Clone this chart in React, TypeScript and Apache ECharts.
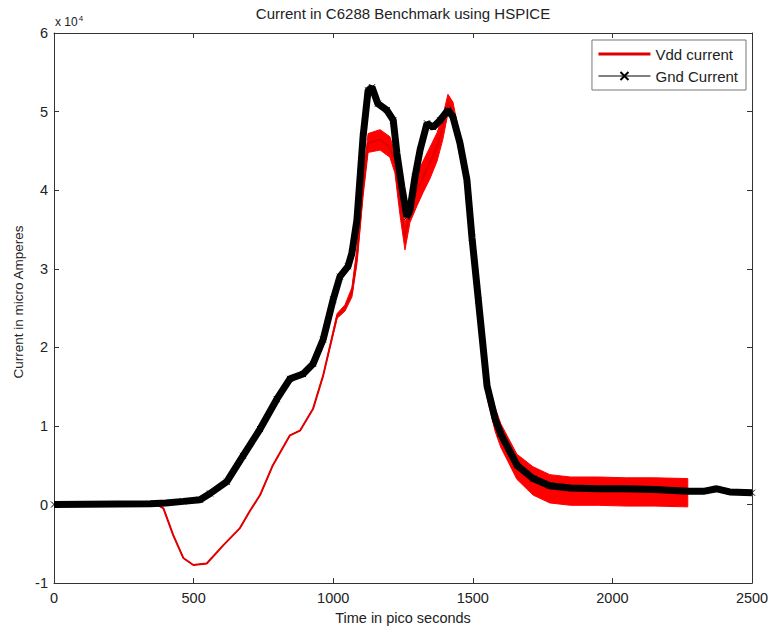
import React, { useEffect, useRef } from "react";
import * as echarts from "echarts";

// Gnd current (units of 1e4 micro Amperes) vs time in ps
const gndTime = [0, 344, 400, 463, 523, 559, 619, 677, 738, 798, 845, 892, 928, 964, 1000, 1024, 1053, 1067, 1085, 1107, 1125, 1139, 1160, 1192, 1215, 1228, 1246, 1264, 1275, 1293, 1311, 1336, 1358, 1383, 1411, 1429, 1454, 1479, 1497, 1520, 1551, 1580, 1600, 1658, 1716, 1776, 1850, 1950, 2050, 2150, 2270, 2330, 2374, 2420, 2500];
const gndCurrent = [0, 0.01, 0.02, 0.04, 0.06, 0.14, 0.29, 0.62, 0.96, 1.34, 1.6, 1.66, 1.79, 2.1, 2.61, 2.9, 3.03, 3.2, 3.62, 4.68, 5.27, 5.31, 5.1, 5.02, 4.89, 4.47, 4.04, 3.66, 3.75, 4.17, 4.51, 4.85, 4.8, 4.89, 5.02, 4.93, 4.6, 4.13, 3.4, 2.6, 1.51, 1.09, 0.9, 0.5, 0.33, 0.24, 0.21, 0.2, 0.2, 0.19, 0.17, 0.17, 0.2, 0.16, 0.15];

// Vdd current (units of 1e4 micro Amperes) vs time in ps, with noise half-width
const vddTime = [356, 392, 427, 463, 499, 547, 606, 666, 702, 738, 784, 845, 881, 928, 964, 1014, 1042, 1067, 1085, 1107, 1125, 1168, 1203, 1221, 1239, 1257, 1275, 1300, 1322, 1347, 1372, 1393, 1411, 1429, 1447, 1479, 1497, 1520, 1551, 1580, 1600, 1658, 1716, 1776, 1850, 1950, 2050, 2150, 2270];
const vddCurrent = [0.03, -0.05, -0.39, -0.68, -0.77, -0.75, -0.52, -0.3, -0.08, 0.12, 0.5, 0.88, 0.94, 1.22, 1.64, 2.4, 2.5, 2.7, 3.16, 4.04, 4.6, 4.64, 4.55, 4.35, 3.84, 3.4, 3.75, 4.0, 4.17, 4.35, 4.55, 4.8, 5.1, 5.0, 4.68, 4.1, 3.4, 2.6, 1.5, 1.08, 0.88, 0.48, 0.3, 0.2, 0.17, 0.17, 0.16, 0.16, 0.15];
const vddNoise = [0, 0, 0, 0, 0, 0, 0, 0, 0, 0, 0, 0, 0, 0, 0, 0.03, 0.04, 0.06, 0.1, 0.12, 0.12, 0.13, 0.13, 0.13, 0.15, 0.16, 0.16, 0.2, 0.2, 0.2, 0.18, 0.15, 0.12, 0.12, 0.12, 0.12, 0.12, 0.12, 0.14, 0.15, 0.15, 0.16, 0.18, 0.18, 0.18, 0.18, 0.18, 0.18, 0.18];

const xTicks = { min: 0, max: 2500, interval: 500 };
const yTicks = { min: -1, max: 6, interval: 1 };

const FONT = "'Liberation Sans', Arial, Helvetica, sans-serif";
const AXIS_COLOR = "#333";
const TEXT_COLOR = "#222";

export default function App() {
  const ref = useRef<HTMLDivElement>(null);
  useEffect(() => {
    document.body.style.margin = "0";
    if (!ref.current) return;
    const chart = echarts.init(ref.current, undefined, { renderer: "svg" });

    const gndData = gndTime.map((t, i) => [t, gndCurrent[i]]);
    const vddData = vddTime.map((t, i) => [t, vddCurrent[i]]);

    const baseX = {
      type: "value" as const,
      min: xTicks.min,
      max: xTicks.max,
      interval: xTicks.interval,
      splitLine: { show: false },
      axisLine: { show: true, onZero: false, lineStyle: { color: AXIS_COLOR, width: 1 } },
      axisTick: { show: true, inside: true, length: 5, lineStyle: { color: AXIS_COLOR } },
    };
    const baseY = {
      type: "value" as const,
      min: yTicks.min,
      max: yTicks.max,
      interval: yTicks.interval,
      splitLine: { show: false },
      axisLine: { show: true, onZero: false, lineStyle: { color: AXIS_COLOR, width: 1 } },
      axisTick: { show: true, inside: true, length: 5, lineStyle: { color: AXIS_COLOR } },
    };

    const option: any = {
      animation: false,
      backgroundColor: "#fff",
      grid: { left: 54, right: 20, top: 33, bottom: 45 },
      graphic: [
        {
          type: "text",
          x: 403,
          y: 13,
          style: {
            text: "Current in C6288 Benchmark using HSPICE",
            font: `15px ${FONT}`,
            fill: TEXT_COLOR,
            align: "center",
            verticalAlign: "middle",
          },
        },
        {
          type: "text",
          x: 55,
          y: 14,
          style: {
            text: "{a|x 10}{b|4}",
            fill: TEXT_COLOR,
            rich: {
              a: { fontSize: 12, fontFamily: FONT, fill: TEXT_COLOR },
              b: { fontSize: 8, fontFamily: FONT, fill: TEXT_COLOR, padding: [0, 0, 8, 1] },
            },
          },
        },
        {
          type: "text",
          x: 18,
          y: 302,
          rotation: Math.PI / 2,
          style: {
            text: "Current in micro Amperes",
            font: `13.5px ${FONT}`,
            fill: TEXT_COLOR,
            align: "center",
            verticalAlign: "middle",
          },
        },
      ],
      legend: {
        orient: "vertical",
        right: 26,
        top: 40,
        backgroundColor: "#fff",
        borderColor: "#777",
        borderWidth: 1,
        borderRadius: 0,
        padding: [5, 8, 5, 6],
        itemGap: 4,
        itemWidth: 52,
        itemHeight: 10,
        textStyle: { fontSize: 15, fontFamily: FONT, color: TEXT_COLOR, lineHeight: 18 },
        data: [
          {
            name: "Vdd current",
            icon: "path://M0,0M52,10M0,3.5L52,3.5L52,6.5L0,6.5Z",
            itemStyle: { color: "#dd0000" },
          },
          { name: "Gnd Current", lineStyle: { width: 1, color: "#000" } },
        ],
      },
      xAxis: [
        {
          ...baseX,
          position: "bottom",
          name: "Time in pico seconds",
          nameLocation: "middle",
          nameGap: 25,
          nameTextStyle: { fontSize: 14.5, fontFamily: FONT, color: TEXT_COLOR },
          axisLabel: {
            fontSize: 14.5,
            fontFamily: FONT,
            color: TEXT_COLOR,
            margin: 7,
            formatter: (v: number) => String(v),
          },
        },
        { ...baseX, position: "top", axisLabel: { show: false } },
      ],
      yAxis: [
        {
          ...baseY,
          position: "left",
          axisLabel: {
            fontSize: 14.5,
            fontFamily: FONT,
            color: TEXT_COLOR,
            margin: 6,
            formatter: (v: number) => String(v),
          },
        },
        { ...baseY, position: "right", axisLabel: { show: false } },
      ],
      series: [
        {
          name: "Vdd noise band",
          type: "custom",
          xAxisIndex: 0,
          yAxisIndex: 0,
          silent: true,
          clip: true,
          data: vddData,
          renderItem: (params: any, api: any) => {
            if (params.dataIndex !== 0) return null;
            const upper = vddTime.map((t, i) => api.coord([t, vddCurrent[i] + vddNoise[i]]));
            const lower = vddTime.map((t, i) => api.coord([t, vddCurrent[i] - vddNoise[i]])).reverse();
            return {
              type: "polygon",
              shape: { points: upper.concat(lower) },
              style: { fill: "#ff0000", stroke: "#ff0000", lineWidth: 1 },
            };
          },
        },
        {
          name: "Vdd current",
          type: "line",
          xAxisIndex: 0,
          yAxisIndex: 0,
          data: vddData,
          symbol: "none",
          lineStyle: { color: "#e00000", width: 2 },
          itemStyle: { color: "#e00000" },
        },
        {
          name: "Gnd Current",
          type: "line",
          xAxisIndex: 0,
          yAxisIndex: 0,
          data: gndData,
          symbol: "path://M0,0L10,10M10,0L0,10",
          symbolSize: 6,
          showSymbol: true,
          lineStyle: { color: "#000", width: 7 },
          itemStyle: { color: "#000", borderColor: "#000", borderWidth: 1 },
        },
      ],
    };
    chart.setOption(option);
    return () => chart.dispose();
  }, []);
  return <div ref={ref} style={{ width: 772, height: 630 }} />;
}
